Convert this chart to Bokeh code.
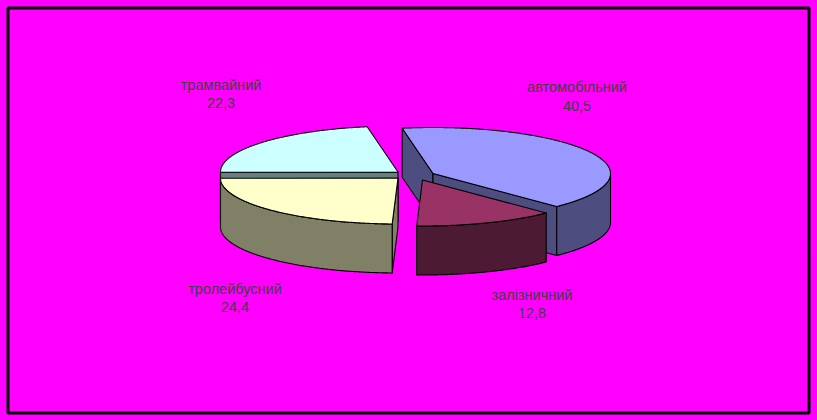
import numpy as np
from bokeh.plotting import figure
from bokeh.models import Range1d
from bokeh.core.properties import value
from bokeh.embed import file_html
from bokeh.resources import INLINE

categories = ["автомобільний", "залізничний", "тролейбусний", "трамвайний"]
values = [40.5, 12.8, 24.4, 22.3]
value_labels = ["40,5", "12,8", "24,4", "22,3"]
top_colors = ["#9999FF", "#993366", "#FFFFCC", "#CCFFFF"]
wall_colors = ["#4D4D80", "#4D1A33", "#808066", "#668080"]
centers_x = [432.5, 422, 397.5, 397.5]
centers_y = [173, 179.5, 177.5, 171.5]
label_x = [576.5, 531.5, 234.5, 220.5]
label_y = [86, 294, 288, 84]
value_y = [105, 312, 306, 102]
draw_order = [3, 2, 0, 1]

RX, RY, DEPTH = 177.5, 46, 49
START_DEG = -10
BG = "#FF00FF"

p = figure(width=817, height=420, output_backend="svg", toolbar_location=None,
           x_range=Range1d(0, 817), y_range=Range1d(420, 0), min_border=0,
           background_fill_color=BG, border_fill_color=BG, outline_line_color=None)
p.axis.visible = False
p.grid.visible = False

p.quad(left=[7.5], right=[808.5], top=[7.5], bottom=[412.5],
       fill_color=None, line_color="black", line_width=3)

cum = np.cumsum([0] + values)
starts = START_DEG + cum[:-1] / cum[-1] * 360
ends = START_DEG + cum[1:] / cum[-1] * 360


def arc(cx, cy, a, b, dy=0):
    t = np.radians(np.linspace(a, b, max(int(abs(b - a)) * 2, 2)))
    return cx + RX * np.sin(t), cy - RY * np.cos(t) + dy


for i in draw_order:
    cx, cy = centers_x[i], centers_y[i]
    a, b = starts[i], ends[i]
    style = dict(fill_color=wall_colors[i], line_color="black", line_width=1.1,
                 line_join="round")
    # cut faces that turn towards the viewer
    faces = []
    if np.sin(np.radians(a)) < 0:
        faces.append(a)
    if np.sin(np.radians(b)) > 0:
        faces.append(b)
    for ang in faces:
        ex, ey = arc(cx, cy, ang, ang + 1e-6)
        ex, ey = ex[0], ey[0]
        p.patch([cx, ex, ex, cx], [cy, ey, ey + DEPTH, cy + DEPTH], **style)
    # outer wall (front half only)
    lo, hi = max(a, 90), min(b, 270)
    if hi > lo:
        x1, y1 = arc(cx, cy, lo, hi)
        x2, y2 = arc(cx, cy, lo, hi, DEPTH)
        p.patch(np.r_[x1, x2[::-1]], np.r_[y1, y2[::-1]], **style)
    # top face
    xa, ya = arc(cx, cy, a, b)
    p.patch(np.r_[cx, xa], np.r_[cy, ya], fill_color=top_colors[i],
            line_color="black", line_width=1.1, line_join="round")

font = dict(text_font=value("Liberation Sans"), text_font_size="14.5px",
            text_color="#404040", text_align="center", text_baseline="middle")
p.text(x=label_x, y=label_y, text=categories, **font)
p.text(x=label_x, y=value_y, text=value_labels, **font)

html = file_html(p, INLINE)
html = html.replace("<head>", "<head><style>html,body{margin:0;padding:0;background:#FF00FF;overflow:hidden}</style>", 1)
open("out.html", "w").write(html)
